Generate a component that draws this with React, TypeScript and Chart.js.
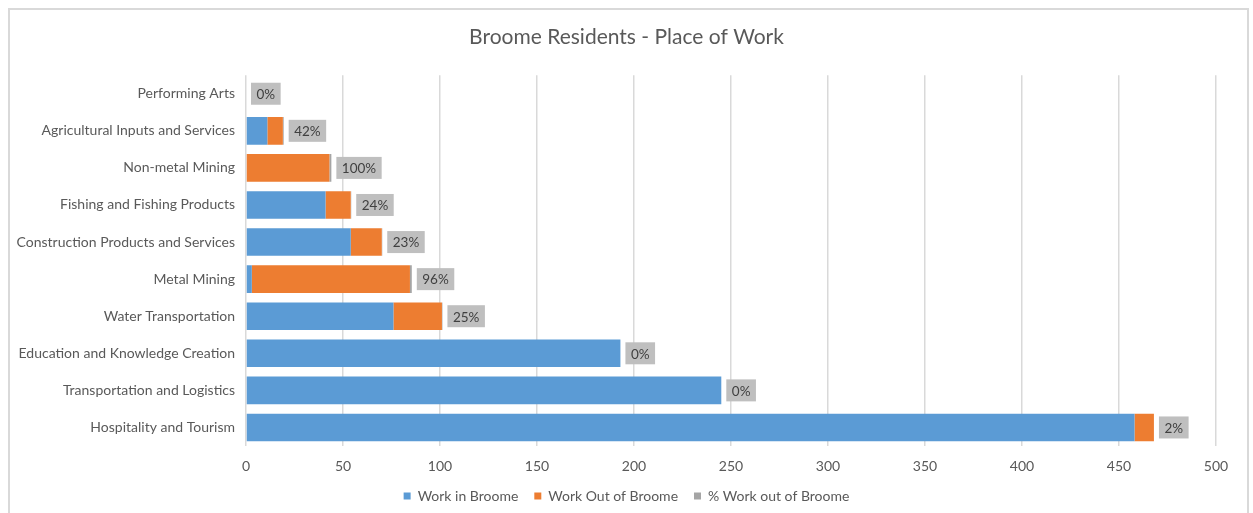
import React, { useEffect, useRef } from "react";
import { Chart, registerables } from "chart.js";

Chart.register(...registerables);

const FONT = "Lato, 'Open Sans', sans-serif";

const categories = [
  "Performing Arts",
  "Agricultural Inputs and Services",
  "Non-metal Mining",
  "Fishing and Fishing Products",
  "Construction Products and Services",
  "Metal Mining",
  "Water Transportation",
  "Education and Knowledge Creation",
  "Transportation and Logistics",
  "Hospitality and Tourism",
];
const workInBroome = [0, 11, 0, 41, 54, 3, 76, 193, 245, 458];
const workOutOfBroome = [0, 8, 43, 13, 16, 81.5, 25, 0, 0, 10];
const pctWorkOut = [0, 42, 100, 24, 23, 96, 25, 0, 0, 2];
const xMax = 500;
const xStep = 50;

const pctLabelPlugin = {
  id: "pctLabels",
  afterDatasetsDraw(chart: any) {
    const ctx = chart.ctx;
    const meta = chart.getDatasetMeta(2);
    ctx.save();
    ctx.font = `13.5px ${FONT}`;
    ctx.textBaseline = "middle";
    ctx.textAlign = "left";
    meta.data.forEach((el: any, i: number) => {
      const text = pctWorkOut[i] + "%";
      const tw = ctx.measureText(text).width;
      const x0 = el.x + 5;
      const w = tw + 11;
      const h = 22;
      ctx.fillStyle = "#bfbfbf";
      ctx.fillRect(x0, el.y - h / 2, w, h);
      ctx.fillStyle = "#404040";
      ctx.fillText(text, x0 + 5.5, el.y + 1);
    });
    ctx.restore();
  },
};

export default function App() {
  const ref = useRef<HTMLCanvasElement>(null);
  useEffect(() => {
    if (!ref.current) return;
    const chart = new Chart(ref.current, {
      type: "bar",
      data: {
        labels: categories,
        datasets: [
          {
            label: "Work in Broome",
            data: workInBroome,
            backgroundColor: "#5b9bd5",
            barPercentage: 0.745,
            categoryPercentage: 1,
          },
          {
            label: "Work Out of Broome",
            data: workOutOfBroome,
            backgroundColor: "#ed7d31",
            barPercentage: 0.745,
            categoryPercentage: 1,
          },
          {
            label: "% Work out of Broome",
            data: pctWorkOut.map((p) => p / 100),
            backgroundColor: "#a5a5a5",
            barPercentage: 0.745,
            categoryPercentage: 1,
          },
        ],
      },
      options: {
        indexAxis: "y",
        animation: false,
        responsive: true,
        maintainAspectRatio: false,
        layout: { padding: { top: 0, left: 10, right: 10, bottom: 0 } },
        plugins: {
          title: {
            display: true,
            text: "Broome Residents - Place of Work",
            color: "#595959",
            font: { family: FONT, size: 21, weight: "normal" },
            padding: { top: 25, bottom: 25 },
          },
          legend: {
            position: "bottom",
            labels: {
              boxWidth: 7,
              boxHeight: 7,
              padding: 16,
              color: "#595959",
              font: { family: FONT, size: 14 },
            },
          },
          tooltip: { enabled: false },
        },
        scales: {
          x: {
            stacked: true,
            min: 0,
            max: xMax,
            ticks: {
              stepSize: xStep,
              color: "#595959",
              font: { family: FONT, size: 14 },
              padding: 12,
            },
            grid: { color: "#d9d9d9", lineWidth: 1.5, drawTicks: false },
            border: { display: false },
            afterFit: (s: any) => {
              s.height = 27;
            },
          },
          y: {
            stacked: true,
            ticks: {
              color: "#595959",
              font: { family: FONT, size: 14 },
              padding: 11,
            },
            grid: { display: false, drawTicks: false },
            border: { display: false },
            afterFit: (s: any) => {
              s.width = 236;
            },
          },
          y2: {
            type: "linear",
            axis: "y",
            position: "right",
            display: true,
            ticks: { display: false },
            grid: { display: false, drawTicks: false },
            border: { display: false },
            afterFit: (s: any) => {
              s.width = 27;
            },
          },
        },
      },
      plugins: [pctLabelPlugin],
    } as any);
    return () => chart.destroy();
  }, []);

  return (
    <div
      style={{
        position: "fixed",
        left: 0,
        top: 0,
        width: 1253,
        height: 513,
        overflow: "hidden",
        background: "#fff",
      }}
    >
      <div
        style={{
          position: "absolute",
          left: 8,
          top: 8,
          width: 1241,
          height: 540,
          boxSizing: "border-box",
          border: "2px solid #d9d9d9",
        }}
      />
      <div style={{ position: "absolute", left: 0, top: 0, width: 1253, height: 513 }}>
        <canvas ref={ref} />
      </div>
    </div>
  );
}
